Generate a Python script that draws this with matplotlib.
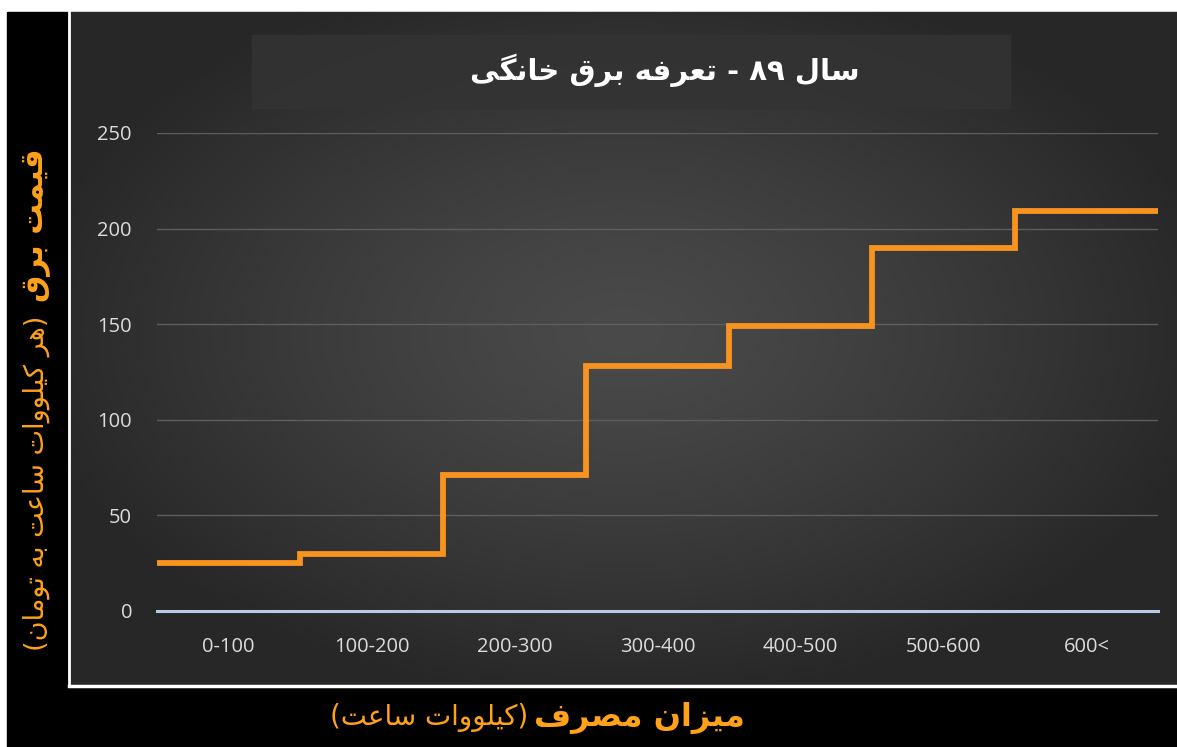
"""Household electricity tariff step chart (year 89)."""

import matplotlib
matplotlib.use("Agg")
import matplotlib.pyplot as plt
from matplotlib.patches import Rectangle
from matplotlib.lines import Line2D
import numpy as np

# ---- data -------------------------------------------------------------
categories = ['0-100', '100-200', '200-300', '300-400', '400-500', '500-600', '600<']
prices = [25, 30, 71, 128, 149, 190, 209]
y_ticks = [0, 50, 100, 150, 200, 250]

title_text = 'سال ۸۹ - تعرفه برق خانگی'
ylabel_main = 'قیمت برق'
ylabel_sub = '(هر کیلووات ساعت به تومان)'
xlabel_main = 'میزان مصرف'
xlabel_sub = '(کیلووات ساعت)'

# ---- minimal Persian shaping (matplotlib has no bidi / shaping) --------
FORMS = {
    'ا': ('\uFE8D', '\uFE8E', None, None),
    'ب': ('\uFE8F', '\uFE90', '\uFE91', '\uFE92'),
    'ت': ('\uFE95', '\uFE96', '\uFE97', '\uFE98'),
    'خ': ('\uFEA5', '\uFEA6', '\uFEA7', '\uFEA8'),
    'ر': ('\uFEAD', '\uFEAE', None, None),
    'ز': ('\uFEAF', '\uFEB0', None, None),
    'س': ('\uFEB1', '\uFEB2', '\uFEB3', '\uFEB4'),
    'ص': ('\uFEB9', '\uFEBA', '\uFEBB', '\uFEBC'),
    'ع': ('\uFEC9', '\uFECA', '\uFECB', '\uFECC'),
    'ف': ('\uFED1', '\uFED2', '\uFED3', '\uFED4'),
    'ق': ('\uFED5', '\uFED6', '\uFED7', '\uFED8'),
    'ل': ('\uFEDD', '\uFEDE', '\uFEDF', '\uFEE0'),
    'م': ('\uFEE1', '\uFEE2', '\uFEE3', '\uFEE4'),
    'ن': ('\uFEE5', '\uFEE6', '\uFEE7', '\uFEE8'),
    'ه': ('\uFEE9', '\uFEEA', '\uFEEB', '\uFEEC'),
    'و': ('\uFEED', '\uFEEE', None, None),
    'ک': ('\uFB8E', '\uFB8F', '\uFB90', '\uFB91'),
    'گ': ('\uFB92', '\uFB93', '\uFB94', '\uFB95'),
    'ی': ('\uFBFC', '\uFBFD', '\uFBFE', '\uFBFF'),
}
DIGITS = set('0123456789۰۱۲۳۴۵۶۷۸۹')
MIRROR = {'(': ')', ')': '('}


def fa(text):
    chars = list(text)
    shaped = []
    for i, c in enumerate(chars):
        if c not in FORMS:
            shaped.append(c)
            continue
        prev = chars[i - 1] if i > 0 else None
        nxt = chars[i + 1] if i + 1 < len(chars) else None
        iso, fin, ini, med = FORMS[c]
        join_prev = prev in FORMS and FORMS[prev][2] is not None
        join_next = nxt in FORMS and ini is not None
        if join_prev and join_next:
            shaped.append(med)
        elif join_prev:
            shaped.append(fin)
        elif join_next:
            shaped.append(ini)
        else:
            shaped.append(iso)
    # visual order: reverse, keep digit runs left-to-right
    shaped = shaped[::-1]
    out, run = [], []
    for c in shaped:
        if c in DIGITS:
            run.append(c)
        else:
            out.extend(run[::-1])
            run = []
            out.append(MIRROR.get(c, c))
    out.extend(run[::-1])
    return ''.join(out)


# ---- figure -----------------------------------------------------------
W, H = 1177, 747
fig = plt.figure(figsize=(W / 100, H / 100), dpi=100, facecolor='white')


def px(x0, y0, x1, y1):
    """pixel box (top-left origin) -> figure rect"""
    return [x0 / W, 1 - y1 / H, (x1 - x0) / W, (y1 - y0) / H]


# black frame
fig.patches.append(Rectangle((7 / W, 0), 1 - 7 / W, 1 - 12 / H,
                             transform=fig.transFigure, color='black', zorder=0))

# radial gradient panel
bg = fig.add_axes(px(70, 12, W, 686), zorder=1)
gx, gy = np.meshgrid(np.linspace(-1, 1, 600), np.linspace(-1, 1, 400))
r = np.sqrt((gx / 1.1) ** 2 + ((gy + 0.05) / 1.1) ** 2)
shade = 0x4a - (0x4a - 0x27) * np.clip(r, 0, 1) ** 1.3
img = np.dstack([shade, shade, shade]) / 255.0
bg.imshow(img, aspect='auto', extent=(0, 1, 0, 1))
bg.set_xlim(0, 1)
bg.set_ylim(0, 1)
bg.axis('off')

# title box
fig.patches.append(Rectangle((252 / W, 1 - 108 / H), (1010 - 252) / W, (108 - 35) / H,
                             transform=fig.transFigure, color='#333333', alpha=0.85,
                             zorder=2))

# white frame lines
fig.lines.append(Line2D([69 / W, 69 / W], [1 - 12 / H, 1 - 686 / H],
                        transform=fig.transFigure, color='white', lw=2, zorder=3))
fig.lines.append(Line2D([69 / W, 1], [1 - 686 / H, 1 - 686 / H],
                        transform=fig.transFigure, color='white', lw=2.5, zorder=3))

# main axes
ax = fig.add_axes(px(157, 133, 1158, 611), zorder=4)
ax.set_facecolor('none')
x = np.arange(len(categories))
ax.stairs(prices, np.arange(len(categories) + 1) - 0.5, baseline=None,
          color='#F7931E', lw=4.2, zorder=3)
ax.axhline(0, color='#B8CBE6', lw=2.2, zorder=2.5, clip_on=False)
ax.set_xlim(-0.5, len(categories) - 0.5)
ax.set_ylim(0, 250)
ax.set_yticks(y_ticks)
ax.set_xticks(x)
ax.set_xticklabels(categories)
ax.yaxis.grid(True, color='#5e5e5e', lw=1)
ax.set_axisbelow(True)
for s in ax.spines.values():
    s.set_visible(False)
ax.tick_params(axis='both', length=0, colors='#dcdcdc', labelsize=14.5)
ax.tick_params(axis='y', pad=18)
ax.tick_params(axis='x', pad=19)
for lbl in ax.get_xticklabels() + ax.get_yticklabels():
    lbl.set_fontfamily('Open Sans')

# title
fig.text(665 / W, 1 - 70 / H, fa(title_text), color='white', fontsize=21,
         fontweight='bold', family='DejaVu Sans', ha='center', va='center', zorder=5)

# x label (two parts)
fig.text(745 / W, 1 - 718 / H, fa(xlabel_main), color='#FFA21A', fontsize=23,
         fontweight='bold', family='DejaVu Sans', ha='right', va='center', zorder=5)
fig.text(528 / W, 1 - 718 / H, fa(xlabel_sub), color='#FFA21A', fontsize=20,
         family='DejaVu Sans', ha='right', va='center', zorder=5)

# y label (two parts, rotated)
fig.text(36 / W, 1 - 148 / H, fa(ylabel_main), color='#FFA21A', fontsize=22,
         fontweight='bold', family='DejaVu Sans', rotation=90, ha='center', va='top',
         zorder=5)
fig.text(36 / W, 1 - 316 / H, fa(ylabel_sub), color='#FFA21A', fontsize=19.5,
         family='DejaVu Sans', rotation=90, ha='center', va='top', zorder=5)

fig.savefig('out.png', dpi=100, facecolor='white')
